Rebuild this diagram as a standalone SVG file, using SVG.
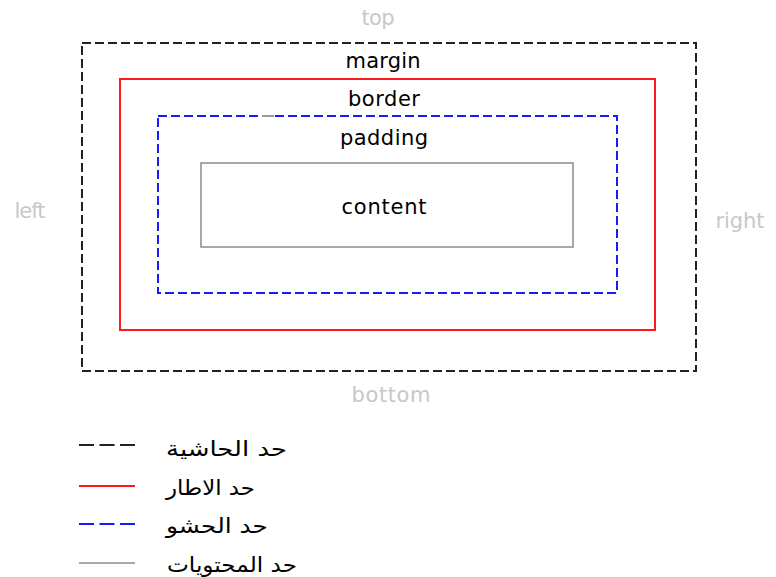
<svg xmlns="http://www.w3.org/2000/svg" width="776" height="577" viewBox="0 0 776 577">
<style>
  .lbl { font-family: "DejaVu Sans", "Liberation Sans", sans-serif; font-size: 21px; fill: #000; text-anchor: middle; }
  .side { font-family: "DejaVu Sans", "Liberation Sans", sans-serif; font-size: 21px; fill: #c8c8c8; text-anchor: middle; }
  .leg { font-family: "DejaVu Sans", sans-serif; font-size: 21px; fill: #000; text-anchor: start; }
  .margin { fill: none; stroke: #222; stroke-width: 2; stroke-dasharray: 9 4; }
  .border { fill: none; stroke: #ff1a1a; stroke-width: 2; }
  .padding { fill: none; stroke: #1a1aff; stroke-width: 2; stroke-dasharray: 9 4; }
  .content { fill: none; stroke: #8c8c8c; stroke-width: 1.5; }
  .legdash { stroke-dasharray: 15 5.5; }
</style>
<rect width="776" height="577" fill="#fff"/>
<g id="margin-box">
  <rect class="margin" x="82" y="43" width="614" height="328"/>
  <text class="lbl" x="383" y="68" textLength="75">margin</text>
</g>
<g id="border-box">
  <rect class="border" x="120" y="79" width="535" height="251"/>
  <text class="lbl" x="384" y="106" textLength="72">border</text>
</g>
<g id="padding-box">
  <rect class="padding" x="158" y="116" width="459" height="177"/>
  <line x1="262" y1="116" x2="274" y2="116" stroke="#9a9a9a" stroke-width="2"/>
  <text class="lbl" x="384" y="145" textLength="88">padding</text>
</g>
<g id="content-box">
  <rect class="content" x="201" y="163" width="372" height="84"/>
  <text class="lbl" x="384" y="214" textLength="85">content</text>
</g>
<g id="sides">
  <text class="side" x="378" y="25" textLength="33">top</text>
  <text class="side" x="391" y="402" textLength="79">bottom</text>
  <text class="side" x="30" y="218" textLength="31">left</text>
  <text class="side" x="740" y="228" textLength="49">right</text>
</g>
<g id="legend">
  <line class="margin legdash" x1="79" y1="445" x2="135" y2="445"/>
  <text class="leg" x="166" y="456" textLength="121" lengthAdjust="spacingAndGlyphs">حد الحاشية</text>
  <line class="border" x1="79" y1="486" x2="135" y2="486"/>
  <text class="leg" x="166" y="495" textLength="89" lengthAdjust="spacingAndGlyphs">حد الاطار</text>
  <line class="padding legdash" x1="79" y1="524" x2="135" y2="524"/>
  <text class="leg" x="166" y="533" textLength="102" lengthAdjust="spacingAndGlyphs">حد الحشو</text>
  <line class="content" x1="79" y1="563" x2="135" y2="563"/>
  <text class="leg" x="167" y="572" textLength="130" lengthAdjust="spacingAndGlyphs">حد المحتويات</text>
</g>
</svg>
